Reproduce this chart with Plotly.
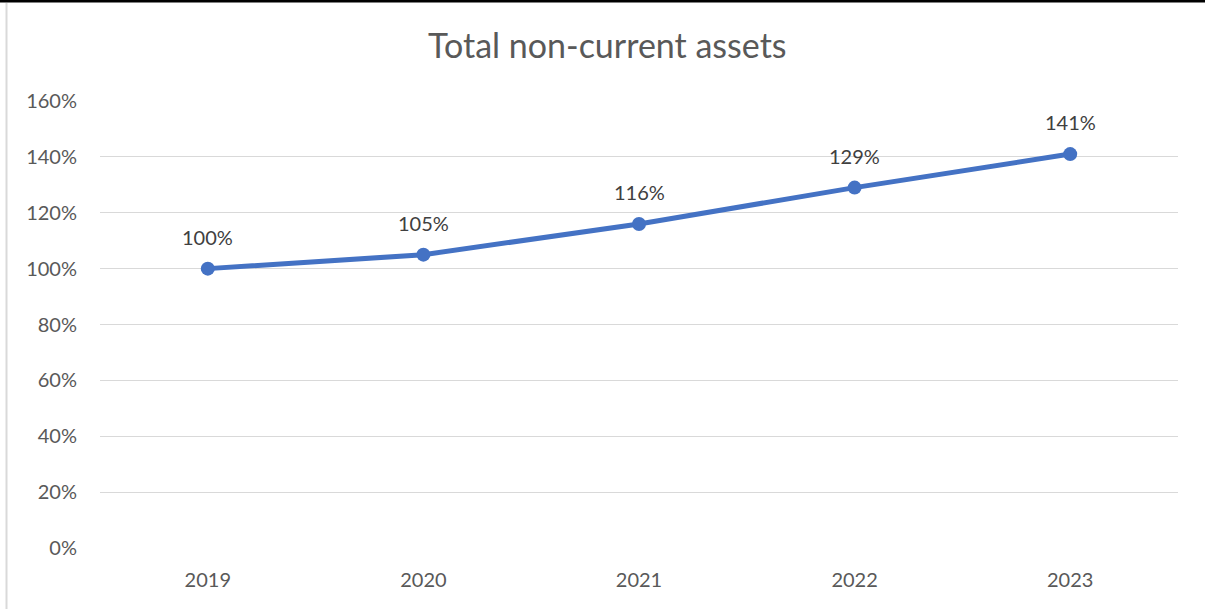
import plotly.graph_objects as go

# Index of total non-current assets, 2019 = 100%
years = ["2019", "2020", "2021", "2022", "2023"]
index_values = [1.00, 1.05, 1.16, 1.29, 1.41]
y_ticks = [0, 0.2, 0.4, 0.6, 0.8, 1.0, 1.2, 1.4, 1.6]
y_tick_labels = ["0%", "20%", "40%", "60%", "80%", "100%", "120%", "140%", "160%"]

W, H = 1205, 609
L, R, T, B = 100, 27, 101, 61
plot_w = W - L - R
plot_h = H - T - B


def px_to_paper_x(px):
    return (px - L) / plot_w


def px_to_paper_y(py):
    return (H - B - py) / plot_h


FONT = "Lato, 'Open Sans', sans-serif"
LINE_BLUE = "#4472C4"

fig = go.Figure()
fig.add_trace(go.Scatter(
    x=years,
    y=index_values,
    mode="lines+markers",
    line=dict(color=LINE_BLUE, width=5),
    marker=dict(color=LINE_BLUE, size=14),
    hoverinfo="skip",
    showlegend=False,
))

# value labels above each point (x given as category index)
for i, v in enumerate(index_values):
    fig.add_annotation(
        x=i, y=v, text=f"{v * 100:.0f}%",
        showarrow=False, yshift=32, xanchor="center", yanchor="middle",
        font=dict(family=FONT, size=20, color="#404040"),
    )

# chart frame: dark band along the top edge, light rule on the left
fig.add_shape(type="rect", xref="paper", yref="paper",
              x0=px_to_paper_x(0), x1=px_to_paper_x(W),
              y0=px_to_paper_y(2.5), y1=px_to_paper_y(-1),
              fillcolor="#000000", line=dict(width=0), layer="above")
fig.add_shape(type="line", xref="paper", yref="paper",
              x0=px_to_paper_x(6.5), x1=px_to_paper_x(6.5),
              y0=px_to_paper_y(3), y1=px_to_paper_y(H),
              line=dict(color="#d9d9d9", width=2), layer="above")

fig.update_layout(
    width=W, height=H,
    margin=dict(l=L, r=R, t=T, b=B, pad=0),
    paper_bgcolor="white",
    plot_bgcolor="white",
    title=dict(
        text="Total non-current assets",
        x=0.504, xanchor="center",
        y=1 - 46 / H, yanchor="middle",
        font=dict(family=FONT, size=34, color="#595959"),
    ),
    xaxis=dict(
        type="category",
        range=[-0.5, 4.5],
        showgrid=False,
        showline=False,
        zeroline=False,
        ticks="",
        tickfont=dict(family=FONT, size=20, color="#595959"),
        ticklabelstandoff=18,
    ),
    yaxis=dict(
        range=[0, 1.6],
        tickvals=y_ticks,
        ticktext=y_tick_labels,
        showgrid=True,
        gridcolor="#d9d9d9",
        gridwidth=1,
        zeroline=False,
        showline=False,
        ticks="",
        tickfont=dict(family=FONT, size=20, color="#595959"),
        ticklabelstandoff=22,
    ),
)

fig.write_html("out.html")
